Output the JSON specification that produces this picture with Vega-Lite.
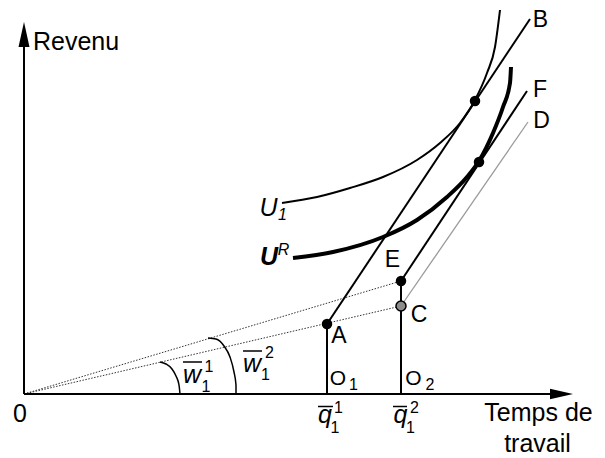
{
  "$schema": "https://vega.github.io/schema/vega-lite/v6.json",
  "width": 605,
  "height": 458,
  "padding": 0,
  "autosize": {"type": "none"},
  "background": "white",
  "config": {"view": {"stroke": null}, "text": {"font": "Liberation Sans"}},
  "datasets": {
    "blackSegs": [
      {"name": "yaxis", "x": 0, "y": 0, "x2": 0, "y2": 350},
      {"name": "xaxis", "x": 0, "y": 0, "x2": 528, "y2": 0},
      {"name": "AB", "x": 303, "y": 70, "x2": 506, "y2": 375},
      {"name": "EF", "x": 377, "y": 113, "x2": 503, "y2": 303},
      {"name": "O1A", "x": 303, "y": 0, "x2": 303, "y2": 70},
      {"name": "O2E", "x": 377, "y": 0, "x2": 377, "y2": 113}
    ],
    "graySegs": [
      {"name": "CD", "x": 377, "y": 88, "x2": 504, "y2": 272}
    ],
    "dottedSegs": [
      {"name": "wage1", "x": 0, "y": 0, "x2": 377, "y2": 88},
      {"name": "wage2", "x": 0, "y": 0, "x2": 377, "y2": 113}
    ],
    "overlines": [
      {"x": 294, "y": -12.5, "x2": 309, "y2": -12.5},
      {"x": 369, "y": -12.5, "x2": 383, "y2": -12.5},
      {"x": 159, "y": 32, "x2": 178, "y2": 32},
      {"x": 219, "y": 43, "x2": 238, "y2": 43}
    ],
    "u1": [
      {"x": 258, "y": 191}, {"x": 293, "y": 197}, {"x": 326, "y": 206},
      {"x": 359, "y": 217}, {"x": 393, "y": 234}, {"x": 416, "y": 251},
      {"x": 436, "y": 271}, {"x": 451, "y": 294}, {"x": 463, "y": 321},
      {"x": 471, "y": 347}, {"x": 476, "y": 384}
    ],
    "ur": [
      {"x": 269, "y": 136}, {"x": 309, "y": 142}, {"x": 359, "y": 157},
      {"x": 393, "y": 174}, {"x": 423, "y": 197}, {"x": 443, "y": 217},
      {"x": 455, "y": 233}, {"x": 469, "y": 261}, {"x": 479, "y": 287},
      {"x": 486, "y": 311}, {"x": 487, "y": 327}
    ],
    "arcs": [
      {"arc": "w1", "x": 136, "y": 32}, {"arc": "w1", "x": 142, "y": 30},
      {"arc": "w1", "x": 148, "y": 25}, {"arc": "w1", "x": 152, "y": 18},
      {"arc": "w1", "x": 155, "y": 9}, {"arc": "w1", "x": 156, "y": 0},
      {"arc": "w2", "x": 184, "y": 56}, {"arc": "w2", "x": 192, "y": 55},
      {"arc": "w2", "x": 200, "y": 48}, {"arc": "w2", "x": 206, "y": 37},
      {"arc": "w2", "x": 210, "y": 22}, {"arc": "w2", "x": 212, "y": 9},
      {"arc": "w2", "x": 212, "y": 0}
    ],
    "blackDots": [
      {"name": "A", "x": 303, "y": 70},
      {"name": "E", "x": 377, "y": 113},
      {"name": "T1", "x": 451, "y": 293},
      {"name": "T2", "x": 455, "y": 232}
    ],
    "grayDots": [
      {"name": "C", "x": 377, "y": 88}
    ],
    "yArrow": [{"x": 0, "y": 359.5}],
    "xArrow": [{"x": 537.5, "y": 0}],
    "yTitle": [
      {"label": "Revenu", "x": 9, "y": 344}
    ],
    "titles": [
      {"label": "Temps de", "x": 514.5, "y": -27},
      {"label": "travail", "x": 513.5, "y": -58},
      {"label": "0", "x": -4, "y": -28}
    ],
    "letters": [
      {"label": "A", "x": 315, "y": 51},
      {"label": "C", "x": 395, "y": 72},
      {"label": "E", "x": 368.5, "y": 127},
      {"label": "B", "x": 516.5, "y": 367},
      {"label": "F", "x": 516, "y": 297},
      {"label": "D", "x": 517.5, "y": 266}
    ],
    "oLetters": [
      {"label": "O", "x": 314, "y": 9},
      {"label": "O", "x": 389.5, "y": 9}
    ],
    "scripts": [
      {"label": "1", "x": 329.5, "y": 4},
      {"label": "2", "x": 406, "y": 4},
      {"label": "1", "x": 314.5, "y": -19},
      {"label": "1", "x": 311, "y": -39},
      {"label": "2", "x": 390.5, "y": -19},
      {"label": "1", "x": 386.5, "y": -39},
      {"label": "1", "x": 185, "y": 22},
      {"label": "1", "x": 182, "y": 2},
      {"label": "2", "x": 245.5, "y": 36},
      {"label": "1", "x": 241.5, "y": 14}
    ],
    "italicScripts": [
      {"label": "1", "x": 258.5, "y": 174},
      {"label": "R", "x": 259.5, "y": 139}
    ],
    "italicVars": [
      {"label": "q", "x": 301, "y": -29},
      {"label": "q", "x": 376.5, "y": -29},
      {"label": "w", "x": 168, "y": 11},
      {"label": "w", "x": 228, "y": 22},
      {"label": "U", "x": 244.5, "y": 178}
    ],
    "boldItalicVars": [
      {"label": "U", "x": 245, "y": 129}
    ]
  },
  "encoding": {
    "x": {"field": "x", "type": "quantitative", "scale": {"domain": [-24, 581], "nice": false, "zero": false}, "axis": null},
    "y": {"field": "y", "type": "quantitative", "scale": {"domain": [-64, 394], "nice": false, "zero": false}, "axis": null}
  },
  "layer": [
    {
      "data": {"name": "dottedSegs"},
      "mark": {"type": "rule", "color": "#333333", "strokeWidth": 1, "strokeDash": [1.5, 1.5]},
      "encoding": {"x2": {"field": "x2"}, "y2": {"field": "y2"}}
    },
    {
      "data": {"name": "graySegs"},
      "mark": {"type": "rule", "color": "#9a9a9a", "strokeWidth": 1.3},
      "encoding": {"x2": {"field": "x2"}, "y2": {"field": "y2"}}
    },
    {
      "data": {"name": "blackSegs"},
      "mark": {"type": "rule", "color": "black", "strokeWidth": 2},
      "encoding": {"x2": {"field": "x2"}, "y2": {"field": "y2"}}
    },
    {
      "data": {"name": "overlines"},
      "mark": {"type": "rule", "color": "black", "strokeWidth": 1.5},
      "encoding": {"x2": {"field": "x2"}, "y2": {"field": "y2"}}
    },
    {
      "data": {"name": "arcs"},
      "mark": {"type": "line", "color": "black", "strokeWidth": 1.5, "interpolate": "monotone"},
      "encoding": {"detail": {"field": "arc"}}
    },
    {
      "data": {"name": "u1"},
      "mark": {"type": "line", "color": "black", "strokeWidth": 2, "interpolate": "monotone"},
      "encoding": {}
    },
    {
      "data": {"name": "ur"},
      "mark": {"type": "line", "color": "black", "strokeWidth": 4, "interpolate": "monotone"},
      "encoding": {}
    },
    {
      "data": {"name": "yArrow"},
      "mark": {"type": "point", "filled": true, "color": "black", "opacity": 1, "size": 625, "shape": "M0,-1L0.44,1L-0.44,1Z"}
    },
    {
      "data": {"name": "xArrow"},
      "mark": {"type": "point", "filled": true, "color": "black", "opacity": 1, "size": 529, "shape": "M1,0L-1,-0.45L-1,0.45Z"}
    },
    {
      "data": {"name": "blackDots"},
      "mark": {"type": "point", "filled": true, "color": "black", "opacity": 1, "size": 110}
    },
    {
      "data": {"name": "grayDots"},
      "mark": {"type": "point", "filled": true, "fill": "#8c8c8c", "stroke": "black", "strokeWidth": 1.5, "opacity": 1, "size": 100}
    },
    {
      "data": {"name": "yTitle"},
      "mark": {"type": "text", "fontSize": 25, "baseline": "alphabetic", "align": "left", "color": "black"},
      "encoding": {"text": {"field": "label"}}
    },
    {
      "data": {"name": "titles"},
      "mark": {"type": "text", "fontSize": 25, "baseline": "alphabetic", "align": "center", "color": "black"},
      "encoding": {"text": {"field": "label"}}
    },
    {
      "data": {"name": "letters"},
      "mark": {"type": "text", "fontSize": 23, "baseline": "alphabetic", "align": "center", "color": "black"},
      "encoding": {"text": {"field": "label"}}
    },
    {
      "data": {"name": "oLetters"},
      "mark": {"type": "text", "fontSize": 21, "baseline": "alphabetic", "align": "center", "color": "black"},
      "encoding": {"text": {"field": "label"}}
    },
    {
      "data": {"name": "scripts"},
      "mark": {"type": "text", "fontSize": 16, "baseline": "alphabetic", "align": "center", "color": "black"},
      "encoding": {"text": {"field": "label"}}
    },
    {
      "data": {"name": "italicScripts"},
      "mark": {"type": "text", "fontSize": 16, "fontStyle": "italic", "baseline": "alphabetic", "align": "center", "color": "black"},
      "encoding": {"text": {"field": "label"}}
    },
    {
      "data": {"name": "italicVars"},
      "mark": {"type": "text", "fontSize": 25, "fontStyle": "italic", "baseline": "alphabetic", "align": "center", "color": "black"},
      "encoding": {"text": {"field": "label"}}
    },
    {
      "data": {"name": "boldItalicVars"},
      "mark": {"type": "text", "fontSize": 25, "fontStyle": "italic", "fontWeight": "bold", "baseline": "alphabetic", "align": "center", "color": "black"},
      "encoding": {"text": {"field": "label"}}
    }
  ]
}
